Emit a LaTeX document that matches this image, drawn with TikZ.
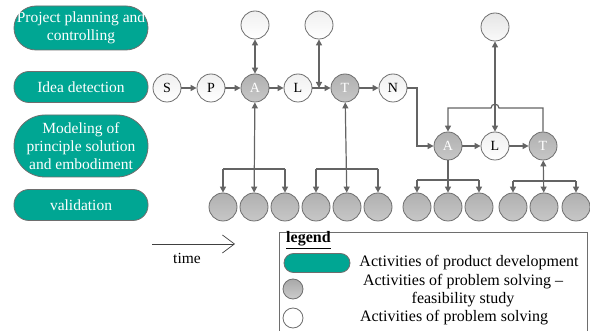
\documentclass[tikz,border=0pt]{standalone}
\usepackage{fontspec}
\setmainfont{Liberation Serif}
\usetikzlibrary{arrows.meta}
\definecolor{teal}{RGB}{0,166,147}
\definecolor{edgegray}{RGB}{100,100,100}
\definecolor{rimgray}{RGB}{110,110,110}
\begin{document}
\begin{tikzpicture}[x=1pt,y=-1pt,
  every node/.style={font=\fontsize{15.5}{18}\selectfont},
  pill/.style={rectangle, rounded corners=15pt, draw=rimgray, line width=0.8pt, fill=teal,
    text=white, minimum width=134pt, minimum height=31pt,
    inner sep=0pt, align=center},
  act/.style={circle, draw=rimgray, line width=0.8pt, minimum size=28pt, inner sep=0pt,
    font=\fontsize{14}{14}\selectfont},
  plain/.style={act, top color=white!94!black, bottom color=white},
  study/.style={act, top color=black!31, bottom color=black!22, text=white},
  link/.style={draw=edgegray, line width=1.2pt},
  arr/.style={link, -{Triangle[length=6pt,width=6pt]}},
  dbl/.style={link, {Triangle[length=6pt,width=6pt]}-{Triangle[length=6pt,width=6pt]}},
  legtext/.style={font=\fontsize{16}{18}\selectfont, inner sep=0pt}
]
\useasboundingbox (0,0) rectangle (590,331);

% phases of product development
\node[pill, minimum height=44pt, rounded corners=22pt] (plan) at (81,28)
  {Project planning and\\controlling};
\node[pill] (idea) at (81,87) {Idea detection};
\node[pill, minimum height=62pt, rounded corners=31pt] (model) at (81,146)
  {Modeling of\\principle solution\\and embodiment};
\node[pill] (valid) at (81,205) {validation};

% problem solving cycle in idea detection
\node[plain] (S) at (167,88) {S};
\node[plain] (P) at (211,88) {P};
\node[study] (A) at (255,88) {A};
\node[plain] (L) at (298,88) {L};
\node[study] (T) at (345,88) {T};
\node[plain] (N) at (393,88) {N};
\node[plain] (u1) at (255,25) {};
\node[plain] (u2) at (319,25) {};

\draw[arr] (S) -- (P);
\draw[arr] (P) -- (A);
\draw[arr] (A) -- (L);
\draw[arr] (L) -- (T);
\draw[arr] (T) -- (N);
\draw[dbl] (u1) -- (A);
\coordinate (lt) at (319,88);
\draw[dbl] (u2) -- (lt);

% problem solving cycle in modeling
\node[study] (A2) at (448,146) {A};
\node[plain] (L2) at (495,146) {L};
\node[study] (T2) at (543,146) {T};
\node[act, top color=black!10, bottom color=black!2] (u3) at (495,27) {};
\coordinate (nk) at (417,88);
\draw[arr] (N) -- (nk) |- (A2);
\draw[arr] (A2) -- (L2);
\draw[arr] (L2) -- (T2);
\draw[arr] (T2.north) -- (543,108) -- (499,108)
  .. controls (499,103) and (491,103) .. (491,108) -- (448,108) -- (A2.north);
\draw[dbl] (u3) -- (L2);

% feasibility studies in validation
\foreach \x [count=\i] in {223,254,285,316,347,378,417,448,479,513,544,576}
  \node[study] (v\i) at (\x,207) {};

\coordinate (g1) at (223,169); \coordinate (g3) at (285,169);
\draw[link] (g1) -- (g3);
\draw[arr] (g1) -- (v1); \draw[arr] (g3) -- (v3);
\draw[dbl] (A) -- (v2);

\coordinate (g4) at (316,169); \coordinate (g6) at (378,169);
\draw[link] (g4) -- (g6);
\draw[arr] (g4) -- (v4); \draw[arr] (g6) -- (v6);
\draw[dbl] (T) -- (v5);

\coordinate (g7) at (417,180); \coordinate (g9) at (479,180);
\draw[link] (g7) -- (g9);
\draw[arr] (g7) -- (v7); \draw[arr] (g9) -- (v9);
\draw[arr] (A2) -- (v8);

\coordinate (g10) at (513,181); \coordinate (g12) at (576,181);
\draw[link] (g10) -- (g12);
\draw[arr] (g10) -- (v10); \draw[arr] (g12) -- (v12);
\draw[dbl] (T2) -- (v11);

% time axis
\coordinate (t0) at (152,244);
\coordinate (t1) at (235,244);
\draw[black!75, line width=0.7pt, -{Straight Barb[length=12pt,width=18pt,line width=0.7pt]}] (t0) -- (t1);
\node (time) at (187,258) {time};

% legend
\draw[rimgray, line width=0.8pt] (279,232) rectangle (587,345);
\node[anchor=west, legtext] (leg) at (286,240) {\underline{\textbf{legend}}};
\node[rectangle, rounded corners=9.5pt, draw=rimgray, line width=0.8pt, fill=teal,
  minimum width=66pt, minimum height=19pt, inner sep=0pt] (k1) at (317,263) {};
\node[legtext] (k1t) at (469,263) {Activities of product development};
\node[circle, draw=rimgray, line width=0.8pt, minimum size=20pt, inner sep=0pt,
  top color=black!34, bottom color=black!20] (k2) at (293,289) {};
\node[legtext, align=center] (k2t) at (463,291)
  {Activities of problem solving --\\feasibility study};
\node[circle, draw=rimgray, line width=0.8pt, minimum size=20pt, inner sep=0pt,
  fill=white] (k3) at (293,318) {};
\node[legtext] (k3t) at (454,318) {Activities of problem solving};
\end{tikzpicture}
\end{document}
